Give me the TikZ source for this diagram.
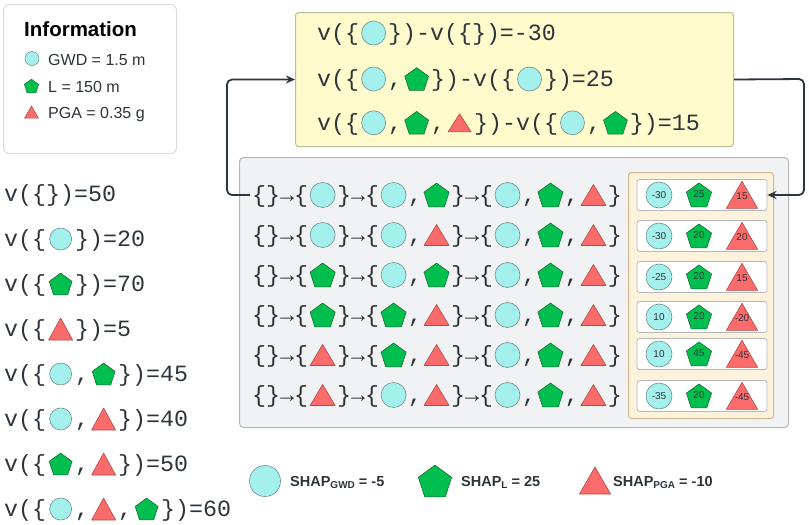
\documentclass[tikz,border=0pt]{standalone}
\usepackage{fontspec}
\setmainfont{Liberation Sans}
\newfontfamily\mf{Liberation Mono}
\usetikzlibrary{shapes.geometric,arrows.meta}
\definecolor{cfill}{HTML}{A3F0EC}
\definecolor{cdr}{HTML}{6F8F8F}
\definecolor{pfill}{HTML}{00BF4E}
\definecolor{pdr}{HTML}{1B6B33}
\definecolor{tfill}{HTML}{FA6B6B}
\definecolor{tdr}{HTML}{B34A4A}
\definecolor{ink}{HTML}{2E343B}
\definecolor{yfill}{HTML}{FFFBCC}
\definecolor{yline}{HTML}{BDBB9E}
\definecolor{gfill}{HTML}{F1F2F4}
\definecolor{gline}{HTML}{B5B7BA}
\definecolor{bfill}{HTML}{FDF2DC}
\definecolor{bline}{HTML}{CDB891}
\definecolor{conncol}{HTML}{2B3540}
\definecolor{iline}{HTML}{DCDCDC}
\newcommand\zzR{12}\newcommand\zzP{12.5}\newcommand\zzW{24}\newcommand\zzH{20}
\newcommand\setsh[4]{\def\zzR{#1}\def\zzP{#2}\def\zzW{#3}\def\zzH{#4}}
\newcommand\shC{\tikz[baseline=-7.7pt,x=1pt,y=1pt]{\useasboundingbox (-14.5,-3) rectangle (14.5,3);\draw[cdr,fill=cfill,line width=0.6pt] (0,0) circle[radius=\zzR];}}
\newcommand\shP{\tikz[baseline=-7.7pt,x=1pt,y=1pt]{\useasboundingbox (-14.5,-3) rectangle (14.5,3);\draw[pdr,fill=pfill,line width=0.6pt,line join=round,shift={(0,{-0.095*\zzP})}] (90:\zzP) -- (162:\zzP) -- (234:\zzP) -- (306:\zzP) -- (18:\zzP) -- cycle;}}
\newcommand\shT{\tikz[baseline=-7.7pt,x=1pt,y=1pt]{\useasboundingbox (-14.5,-3) rectangle (14.5,3);\draw[tdr,fill=tfill,line width=0.6pt,line join=round] ({-\zzW/2},{-\zzH/2}) -- ({\zzW/2},{-\zzH/2}) -- (0,{\zzH/2}) -- cycle;}}
\begin{document}
\begin{tikzpicture}[x=1pt,y=-1pt,
  mtxt/.style={anchor=base west,inner sep=0pt,text=ink,font=\mf\fontsize{23.3}{28}\selectfont},
  conn/.style={draw=conncol,line width=1.8pt,rounded corners=5pt,-{Stealth[length=9pt,width=8pt]}},
  sbox/.style={draw=gline,fill=white,rounded corners=2.5pt,minimum width=130pt,minimum height=31pt,line width=0.8pt,inner sep=0pt},
  snum/.style={inner sep=0pt,text=ink,font=\fontsize{10}{12}\selectfont},
  scirc/.style={snum,circle,draw=cdr,fill=cfill,minimum size=26pt,line width=0.6pt},
  spent/.style={regular polygon,regular polygon sides=5,draw=pdr,fill=pfill,minimum size=26.5pt,inner sep=0pt,line width=0.6pt},
  stri/.style={regular polygon,regular polygon sides=3,draw=tdr,fill=tfill,minimum size=36pt,inner sep=0pt,line width=0.6pt},
  ltxt/.style={anchor=base west,inner sep=0pt,text=ink,font=\bfseries\fontsize{14.5}{17}\selectfont},
  itxt/.style={anchor=base west,inner sep=0pt,text=ink,font=\fontsize{16}{19}\selectfont}
]
\useasboundingbox (0,0) rectangle (809,525);

% Information box
\node[draw=iline,fill=white,rounded corners=6pt,line width=1pt,minimum width=173pt,minimum height=149pt,anchor=north west,inner sep=0pt] (info) at (3,4) {};
\node[anchor=base west,inner sep=0pt,text=black,font=\bfseries\fontsize{20.5}{24}\selectfont] (infot) at (24,36.5) {Information};
\node[circle,draw=cdr,fill=cfill,minimum size=14pt,inner sep=0pt,line width=0.5pt] (ic1) at (32,58.5) {};
\node[regular polygon,regular polygon sides=5,draw=pdr,fill=pfill,minimum size=15pt,inner sep=0pt,line width=0.5pt] (ic2) at (31.5,86.7) {};
\node[regular polygon,regular polygon sides=3,draw=tdr,fill=tfill,minimum size=16pt,inner sep=0pt,line width=0.5pt] (ic3) at (31.5,114) {};
\node[itxt] (it1) at (48,65) {GWD = 1.5 m};
\node[itxt] (it2) at (48,92.5) {L = 150 m};
\node[itxt] (it3) at (48,118) {PGA = 0.35 g};

% Yellow box
\node[draw=yline,fill=yfill,rounded corners=3pt,line width=1pt,minimum width=438pt,minimum height=134pt,anchor=north west,inner sep=0pt] (ybox) at (295,12) {};
\node[mtxt] (y1) at (317,40.7) {\setsh{12}{12.5}{23}{18}v(\{\shC\})-v(\{\})=-30};
\node[mtxt] (y2) at (317,86.7) {\setsh{12}{12.5}{23}{18}v(\{\shC,\shP\})-v(\{\shC\})=25};
\node[mtxt] (y3) at (317,130.5) {\setsh{12}{12.5}{23}{18}v(\{\shC,\shP,\shT\})-v(\{\shC,\shP\})=15};

% Left list
\node[mtxt] (l1) at (4,201.7) {v(\{\})=50};
\node[mtxt] (l2) at (4,246.7) {\setsh{11}{12}{24}{22}v(\{\shC\})=20};
\node[mtxt] (l3) at (4,291.7) {\setsh{11}{12}{24}{22}v(\{\shP\})=70};
\node[mtxt] (l4) at (4,336.7) {\setsh{11}{12}{24}{22}v(\{\shT\})=5};
\node[mtxt] (l5) at (4,381.7) {\setsh{11}{12}{24}{22}v(\{\shC,\shP\})=45};
\node[mtxt] (l6) at (4,426.7) {\setsh{11}{12}{24}{22}v(\{\shC,\shT\})=40};
\node[mtxt] (l7) at (4,471.7) {\setsh{11}{12}{24}{22}v(\{\shP,\shT\})=50};
\node[mtxt] (l8) at (4,516.7) {\setsh{11}{12}{24}{22}v(\{\shC,\shT,\shP\})=60};

% Gray box
\node[draw=gline,fill=gfill,rounded corners=4pt,line width=1pt,minimum width=549pt,minimum height=270pt,anchor=north west,inner sep=0pt] (gbox) at (239,157) {};
\node[draw=bline,fill=bfill,rounded corners=3pt,line width=1pt,minimum width=145pt,minimum height=246pt,anchor=north west,inner sep=0pt] (bbox) at (628,172) {};

% Sequence rows
\node[mtxt] (r1) at (252,202.7) {\setsh{12.5}{13.2}{25}{21}\{\}→\{\shC\}→\{\shC,\shP\}→\{\shC,\shP,\shT\}};
\node[mtxt] (r2) at (252,242.7) {\setsh{12.5}{13.2}{25}{21}\{\}→\{\shC\}→\{\shC,\shT\}→\{\shC,\shP,\shT\}};
\node[mtxt] (r3) at (252,282.7) {\setsh{12.5}{13.2}{25}{21}\{\}→\{\shP\}→\{\shC,\shP\}→\{\shC,\shP,\shT\}};
\node[mtxt] (r4) at (252,322.7) {\setsh{12.5}{13.2}{25}{21}\{\}→\{\shP\}→\{\shP,\shT\}→\{\shC,\shP,\shT\}};
\node[mtxt] (r5) at (252,362.7) {\setsh{12.5}{13.2}{25}{21}\{\}→\{\shT\}→\{\shP,\shT\}→\{\shC,\shP,\shT\}};
\node[mtxt] (r6) at (252,402.7) {\setsh{12.5}{13.2}{25}{21}\{\}→\{\shT\}→\{\shC,\shT\}→\{\shC,\shP,\shT\}};

% Score boxes
\foreach \i/\yy/\a/\b/\c in {1/195/-30/25/15,2/236/-30/20/20,3/277/-25/20/15,4/317/10/20/-20,5/354/10/45/-45,6/396/-35/20/-45}{
  \node[sbox] (s\i) at (702,\yy) {};
  \node[scirc] (s\i c) at (659,\yy) {\a};
  \node[spent] (s\i p) at (699,{\yy+1.2}) {};
  \node[snum] (s\i pn) at (699,{\yy-1}) {\b};
  \node[stri] (s\i t) at (742,{\yy+4.3}) {};
  \node[snum] (s\i tn) at (742,{\yy+1.5}) {\c};
}

% Connectors
\coordinate (r1w) at (250,195);
\coordinate (lc) at (227,195);
\coordinate (rc) at (804,79);
\draw[conn] (r1w) -- (lc) |- (ybox.west);
\draw[conn] (ybox.east) -- (rc) |- (s1.east);

% Bottom legend
\node[circle,draw=cdr,fill=cfill,minimum size=31pt,inner sep=0pt,line width=0.6pt] (lgc) at (265,481) {};
\node[ltxt] (lgct) at (290,486) {SHAP\raisebox{-2.5pt}{\fontsize{10}{12}\selectfont GWD} = -5};
\node[regular polygon,regular polygon sides=5,draw=pdr,fill=pfill,minimum size=35pt,inner sep=0pt,line width=0.6pt] (lgp) at (435,482.7) {};
\node[ltxt] (lgpt) at (461,486) {SHAP\raisebox{-2.5pt}{\fontsize{10}{12}\selectfont L} = 25};
\node[regular polygon,regular polygon sides=3,draw=tdr,fill=tfill,minimum size=36pt,inner sep=0pt,line width=0.6pt] (lgt) at (595,485) {};
\node[ltxt] (lgtt) at (613,486) {SHAP\raisebox{-2.5pt}{\fontsize{10}{12}\selectfont PGA} = -10};
\end{tikzpicture}
\end{document}
